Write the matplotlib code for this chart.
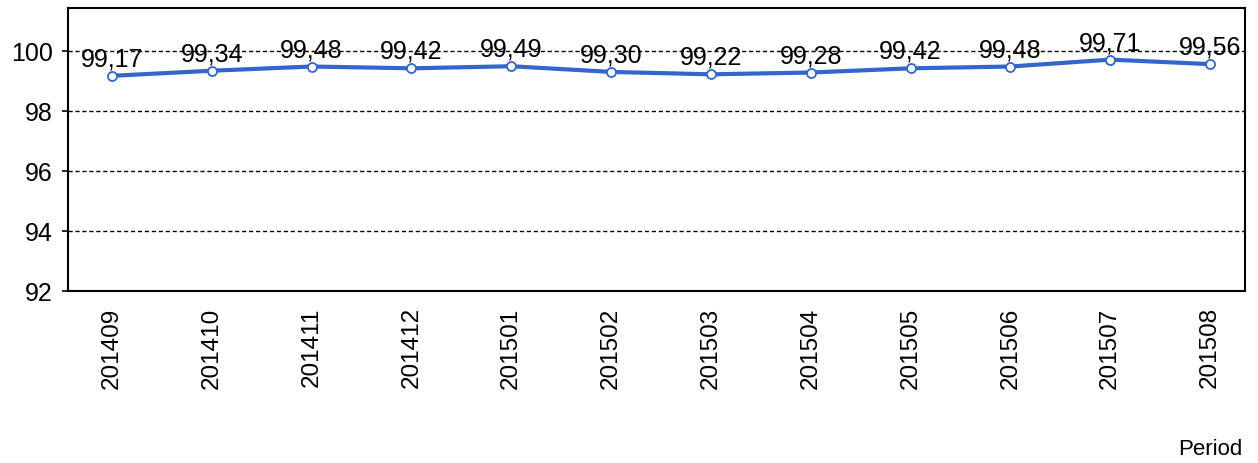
import matplotlib.pyplot as plt

plt.rcParams['font.family'] = ['Liberation Sans', 'DejaVu Sans']

periods = ['201409', '201410', '201411', '201412', '201501', '201502',
           '201503', '201504', '201505', '201506', '201507', '201508']
values = [99.17, 99.34, 99.48, 99.42, 99.49, 99.30,
          99.22, 99.28, 99.42, 99.48, 99.71, 99.56]
yticks = [92, 94, 96, 98, 100]

fig = plt.figure(figsize=(12.58, 4.64), dpi=100)
ax = fig.add_axes([68 / 1258, 1 - 292 / 464, (1245 - 68) / 1258, (292 - 9) / 464])

x = list(range(len(periods)))
ax.plot(x, values, color='#3366CC', linewidth=3, marker='o', markersize=6.5,
        markerfacecolor='white', markeredgecolor='#3366CC', markeredgewidth=1.3, zorder=3)

for xi, v in zip(x, values):
    ax.annotate(('%.2f' % v).replace('.', ','), (xi, v), textcoords='offset points',
                xytext=(0, 7.5), ha='center', va='baseline', fontsize=18, zorder=4)

ax.set_xlim(-0.44, 11.35)
ax.set_ylim(92, 101.43)
ax.set_yticks(yticks)
ax.set_yticklabels([str(t) for t in yticks], fontsize=18)
ax.set_xticks(x)
ax.set_xticklabels(periods, rotation=90, fontsize=17.5)
ax.tick_params(axis='x', length=0, pad=11)
ax.tick_params(axis='y', length=4, width=1.2, pad=7)
ax.grid(axis='y', color='black', linestyle=(0, (3, 2)), linewidth=1)
ax.set_axisbelow(True)
for s in ax.spines.values():
    s.set_linewidth(1.5)

fig.text(1210 / 1258, 1 - 450 / 464, 'Period', ha='center', va='center', fontsize=16)

fig.savefig('out.png', dpi=100)
